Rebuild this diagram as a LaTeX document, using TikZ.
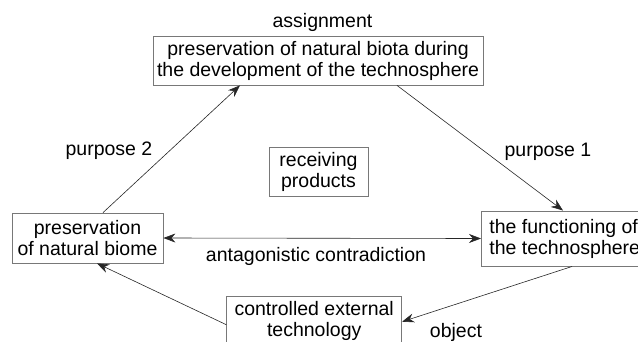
\documentclass[tikz,border=0pt]{standalone}
\usepackage{fontspec}
\setmainfont{Liberation Sans}
\usepackage{xcolor}
\usetikzlibrary{arrows.meta,positioning}
\definecolor{BoxGray}{RGB}{120,120,120}

\begin{document}
\begin{tikzpicture}[x=1pt, y=-1pt,
		box/.style={draw=BoxGray, line width=0.8pt, align=center, inner sep=4pt,
			font=\fontsize{19.5pt}{21pt}\selectfont},
		lbl/.style={anchor=base, inner sep=0pt, font=\fontsize{19.5pt}{21pt}\selectfont},
		conn/.style={black!85, line width=0.6pt, -{Stealth[length=12pt,width=9pt]}}]
		\useasboundingbox (0,0) rectangle (638,341);
		\clip (0,0) rectangle (638,341);
		
		% 方框
		\node[box, minimum width=330pt, minimum height=49pt] (goal) at (318,60.5)
			{preservation of natural biota during\\the development of the technosphere};
		\node[box, minimum width=151pt, minimum height=50pt] (biome) at (87.5,238)
			{preservation\\of natural biome};
		\node[box, minimum width=99pt, minimum height=49pt] (recv) at (318.5,171.5)
			{receiving\\products};
		\node[box, align=left, anchor=west, inner sep=8pt, minimum height=49pt] (techno) at (481,238.5)
			{the functioning of\\the technosphere};
		\node[box, anchor=north, minimum width=175pt, minimum height=49pt] (ctrl) at (314.2,295.7)
			{controlled external\\technology};
		
		% 标签
		\node[lbl] (assign) at (322.5,27) {assignment};
		\node[lbl] (purp2) at (109,155) {purpose 2};
		\node[lbl] (purp1) at (548,156) {purpose 1};
		\node[lbl] (antag) at (316,261.7) {antagonistic contradiction};
		\node[lbl] (obj) at (456,337) {object};
		
		% 箭头
		\draw[conn] ([xshift=15.5pt]biome.north) -- ([xshift=-78pt]goal.south);
		\draw[conn] ([xshift=79pt]goal.south) -- ([xshift=82pt]techno.north west);
		\draw[conn, {Stealth[length=12pt,width=9pt]}-{Stealth[length=12pt,width=9pt]}] (biome.east) -- (techno.west);
		\draw[conn] ([xshift=91pt]techno.south west) -- ([yshift=-26pt]ctrl.north east);
		\draw[conn] ([yshift=-29pt]ctrl.north west) -- ([xshift=9.5pt]biome.south);
		
	\end{tikzpicture}
\end{document}
